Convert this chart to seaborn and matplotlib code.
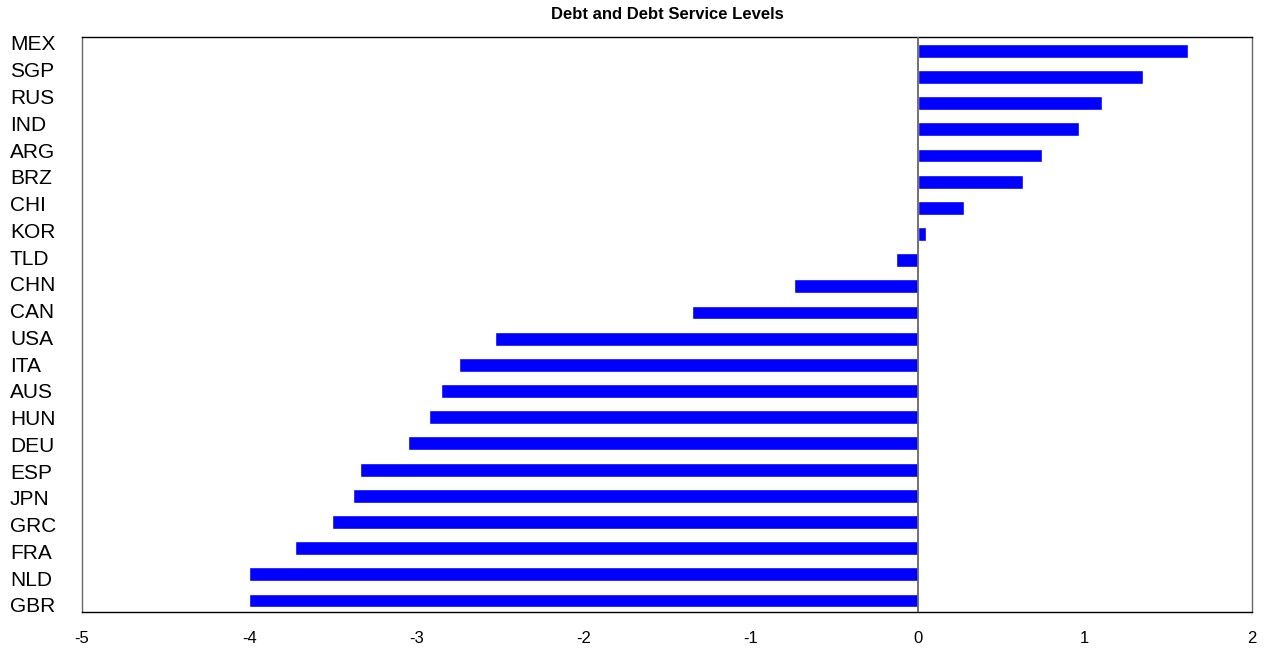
import matplotlib
matplotlib.use("Agg")
import matplotlib.pyplot as plt
import matplotlib.transforms as mtransforms
import seaborn as sns
import pandas as pd

countries = ["MEX", "SGP", "RUS", "IND", "ARG", "BRZ", "CHI", "KOR", "TLD", "CHN", "CAN",
             "USA", "ITA", "AUS", "HUN", "DEU", "ESP", "JPN", "GRC", "FRA", "NLD", "GBR"]
values = [1.615, 1.346, 1.10, 0.963, 0.742, 0.628, 0.275, 0.048, -0.13, -0.742, -1.352,
          -2.531, -2.747, -2.854, -2.926, -3.052, -3.339, -3.381, -3.507, -3.728, -4.003, -4.003]
xticks = [-5, -4, -3, -2, -1, 0, 1, 2]

df = pd.DataFrame({"country": countries, "value": values})

sns.set_theme(style="white")
plt.rcParams["font.family"] = ["Liberation Sans", "DejaVu Sans"]
plt.rcParams["text.color"] = "black"
plt.rcParams["xtick.color"] = "black"
plt.rcParams["ytick.color"] = "black"
plt.rcParams["axes.labelcolor"] = "black"

W, H = 1267, 648
fig = plt.figure(figsize=(W / 100, H / 100), dpi=100)
ax = fig.add_axes([82 / W, 1 - 612 / H, (1252 - 82) / W, (612 - 37) / H])

sns.barplot(data=df, y="country", x="value", orient="h", color="#0000FF",
            saturation=1, width=0.53, ax=ax, order=countries)

ax.set_xlim(-5, 2)
ax.set_ylim(len(countries) - 1 + 0.44, -0.527)
ax.axvline(0, color="#666666", lw=1.3, zorder=3)

ax.set_xticks(xticks)
ax.set_xticklabels([str(t) for t in xticks], fontsize=12)
ax.tick_params(axis="x", length=0, pad=14)
ax.tick_params(axis="y", length=0, labelleft=False)

# category labels, left-aligned at the figure's left margin
blend = mtransforms.blended_transform_factory(ax.transAxes, ax.transData)
n = len(countries)
for i, c in enumerate(countries):
    dy_px = -7.8 + 0.58 * i  # label rows are spaced slightly wider than bars
    tr = blend + mtransforms.ScaledTranslation(0, -dy_px / 100, fig.dpi_scale_trans)
    ax.text((10 - 82) / 1170, i, c, transform=tr, ha="left", va="center_baseline",
            fontsize=15, color="black", clip_on=False)

ax.set_xlabel("")
ax.set_ylabel("")

for side in ["top", "bottom"]:
    ax.spines[side].set_color("black")
    ax.spines[side].set_linewidth(1.0)
for side in ["left", "right"]:
    ax.spines[side].set_color("#666666")
    ax.spines[side].set_linewidth(1.0)

ax.set_title("Debt and Debt Service Levels", fontsize=12, fontweight="bold", pad=13,
             color="black")

fig.savefig("out.png", dpi=100)
